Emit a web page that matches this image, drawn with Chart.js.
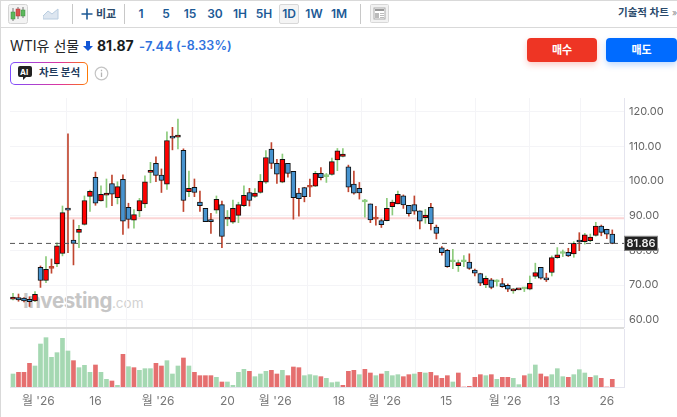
<!DOCTYPE html>
<html lang="ko">
<head>
<meta charset="utf-8">
<title>WTI유 선물</title>
<script src="https://cdn.jsdelivr.net/npm/chart.js@4"></script>
<style>
html, body { margin: 0; padding: 0; background: #fff; overflow: hidden; }
body { width: 677px; height: 417px; position: relative; font-family: Inter, "Noto Sans CJK KR", sans-serif; }
canvas { position: absolute; left: 0; }
.abs { position: absolute; white-space: nowrap; }
.line { position: absolute; background: #d9d9d9; }
.iv { position: absolute; top: 6px; height: 16px; line-height: 16px; transform: translateX(-50%); font-size: 12px; font-weight: 600; color: #1c5a96; }
.btn { position: absolute; top: 38px; height: 24px; line-height: 24px; text-align: center; color: #fff; font-size: 11px; font-weight: 700; border-radius: 4px; }
#priceChart { top: 98px; }
#volumeChart { top: 329px; }
#mark { left: 23px; top: 288px; line-height: 26px; font-size: 20.5px; font-weight: 700; color: #c6c6c6; letter-spacing: -0.4px; }
#mark span { font-size: 13.5px; font-weight: 400; color: #d2d2d2; letter-spacing: 0; }
</style>
</head>
<body>
<div class="line" style="left:0;top:0;width:677px;height:1px"></div>
<div class="line" style="left:0;top:27px;width:677px;height:1px"></div>
<div class="line" style="left:0;top:0;width:1px;height:417px"></div>
<div class="line" style="left:72px;top:4px;width:1px;height:20px;background:#c8c8c8"></div>
<div class="line" style="left:124px;top:4px;width:1px;height:20px;background:#c8c8c8"></div>
<div class="line" style="left:360px;top:4px;width:1px;height:20px;background:#c8c8c8"></div>

<svg class="abs" style="left:8px;top:4px" width="20" height="20">
  <rect x="0.5" y="0.5" width="19" height="19" rx="2" fill="#f3f3f3" stroke="#d4d4d4"/>
  <path d="M5 4v13M10 3v12M15 3v11" stroke="#777"/>
  <rect x="3" y="8" width="4" height="7" fill="#5cb85c" stroke="#3d8b3d" stroke-width=".5"/>
  <rect x="8" y="5" width="4" height="7" fill="#d9534f" stroke="#a33" stroke-width=".5"/>
  <rect x="13" y="6" width="4" height="6" fill="#5cb85c" stroke="#3d8b3d" stroke-width=".5"/>
</svg>
<svg class="abs" style="left:43px;top:8px" width="16" height="12">
  <path d="M0 8 L5 3 L9 6 L15 1 V11 H0Z" fill="#dde6f0" stroke="#b9cde0"/>
</svg>
<svg class="abs" style="left:80px;top:7px" width="14" height="14">
  <path d="M7 1.5v11M1.5 7h11" stroke="#1c5a96" stroke-width="1.6"/>
</svg>
<div class="abs" style="left:96px;top:6px;line-height:16px;font-size:11px;font-weight:700;color:#2a4a6b">비교</div>
<div class="abs" style="left:279px;top:4px;width:18px;height:18px;border:1px solid #d8d8d8;border-radius:2px;background:#f4f4f4"></div>
<div class="iv" style="left:141px">1</div>
<div class="iv" style="left:166px">5</div>
<div class="iv" style="left:190px">15</div>
<div class="iv" style="left:215px">30</div>
<div class="iv" style="left:240px">1H</div>
<div class="iv" style="left:264px">5H</div>
<div class="iv" style="left:289px">1D</div>
<div class="iv" style="left:314px">1W</div>
<div class="iv" style="left:339px">1M</div>
<svg class="abs" style="left:370px;top:4px" width="19" height="19">
  <rect x="0.5" y="0.5" width="18" height="18" rx="1" fill="#f2f2f2" stroke="#d8d8d8"/>
  <rect x="4" y="4" width="11" height="11" fill="#fff" stroke="#aaa"/>
  <rect x="5" y="5" width="9" height="2" fill="#999"/>
  <rect x="5" y="9" width="4" height="5" fill="#bbb"/>
  <path d="M10 9.5h4M10 11.5h4M10 13.5h4" stroke="#bbb"/>
</svg>
<div class="abs" style="left:618px;top:5px;line-height:16px;font-size:10.5px;font-weight:700;color:#2a4a6b">기술적 차트</div>
<div class="abs" style="left:672px;top:5px;line-height:16px;font-size:9px;color:#888">»</div>

<div class="abs" style="left:10px;top:36px;line-height:20px;font-size:14px;color:#232526">WTI유 선물</div>
<svg class="abs" style="left:83px;top:41px" width="10" height="10">
  <path d="M3 0h4v5h3L5 10 0 5h3z" fill="#1256d6"/>
</svg>
<div class="abs" style="left:97px;top:36px;line-height:20px;font-size:14px;font-weight:700;color:#181c21">81.87</div>
<div class="abs" style="left:139px;top:36px;line-height:20px;font-size:13px;font-weight:600;color:#2f72dd;letter-spacing:.3px">-7.44</div>
<div class="abs" style="left:176px;top:36px;line-height:20px;font-size:12.5px;font-weight:600;color:#2f72dd;letter-spacing:.1px">(-8.33%)</div>

<div class="btn" style="left:527px;width:70px;background:#ee3524;box-shadow:0 3px 6px rgba(238,53,36,.25)">매수</div>
<div class="btn" style="left:606px;width:71px;background:#006bff;box-shadow:0 3px 6px rgba(0,107,255,.25)">매도</div>

<div class="abs" style="left:10px;top:62px;width:78px;height:23px;border-radius:5px;background:linear-gradient(90deg,#7b4dff,#e0359b 65%,#ff7a00)"></div>
<div class="abs" style="left:11px;top:63px;width:76px;height:21px;border-radius:4px;background:#fff"></div>
<svg class="abs" style="left:18px;top:66px" width="14" height="15">
  <path d="M2 0h10a2 2 0 0 1 2 2v7a2 2 0 0 1-2 2H8l-3 3v-3H2a2 2 0 0 1-2-2V2a2 2 0 0 1 2-2z" fill="#222"/>
</svg>
<div class="abs" style="left:20px;top:65px;line-height:14px;font-size:8px;font-weight:700;color:#fff">AI</div>
<div class="abs" style="left:39px;top:65px;line-height:16px;font-size:10.5px;font-weight:700;color:#1e3a5c">차트 분석</div>
<svg class="abs" style="left:94px;top:66px" width="15" height="15">
  <circle cx="7.5" cy="7.5" r="6.3" fill="none" stroke="#c4c4c4" stroke-width="1.2"/>
  <path d="M7.5 6.5v4.5M7.5 3.8v1.4" stroke="#b4b4b4" stroke-width="1.3"/>
</svg>

<div class="abs" id="mark">Investing<span>.com</span></div>
<canvas id="priceChart" width="677" height="230"></canvas>
<div class="line" style="left:10px;top:327px;width:614px;height:2px;background:#dcdcdc"></div>
<canvas id="volumeChart" width="677" height="88"></canvas>

<script>
// Daily candles
const opens = [
  65.9,66.4,66.2,65.9,65.4,75.1,71.3,74.8,76.1,79.1,
  91.8,83.0,85.2,87.5,95.6,101.1,94.3,95.9,99.3,95.2,
  100.5,92.4,88.7,91.4,93.4,102.5,105.1,101.7,99.1,112.9,
  112.7,108.9,96.9,98.2,93.9,92.1,88.9,91.6,93.2,89.0,
  88.1,90.1,92.9,96.7,95.6,96.7,99.7,109.2,105.1,99.7,
  105.1,102.8,96.5,98.1,98.2,98.5,102.2,101.3,101.9,106.1,
  107.1,104.1,99.1,97.9,94.0,93.4,89.0,88.6,88.6,92.6,
  93.4,95.7,93.0,93.2,91.4,89.4,92.4,86.7,80.7,80.0,
  76.7,75.6,76.7,76.6,74.3,73.3,70.0,71.5,70.9,70.4,
  69.9,68.3,68.6,68.9,68.8,72.5,75.1,72.0,73.6,77.9,
  79.1,79.4,79.0,83.0,82.5,82.8,84.3,87.0,86.1,84.7
];
const highs = [
  67.6,67.4,66.4,66.6,68.1,75.5,78.2,77.5,82.2,92.8,
  113.6,88.8,87.2,95.7,97.4,102.6,98.6,100.6,101.7,99.8,
  101.8,93.6,91.8,95.0,101.5,105.4,107.0,103.5,114.2,115.5,
  117.9,109.3,102.9,100.6,97.1,92.1,90.7,95.7,94.2,91.5,
  94.5,93.9,98.6,97.9,97.8,101.9,108.8,111.1,106.3,107.8,
  105.1,102.8,97.9,98.2,100.6,102.8,103.9,102.2,106.6,109.4,
  109.4,104.6,102.9,99.6,94.7,93.4,92.7,89.0,95.0,94.5,
  97.1,96.0,93.0,95.7,91.4,91.8,93.6,87.3,81.1,80.3,
  80.3,77.2,78.5,79.0,74.6,73.4,72.6,71.9,71.5,71.9,
  70.3,69.0,68.7,69.3,72.6,76.3,75.1,73.4,78.4,80.8,
  80.1,80.6,82.5,85.1,84.9,84.7,88.1,87.3,86.1,85.9
];
const lows = [
  65.7,65.3,65.1,63.8,65.2,69.3,70.7,73.4,75.3,78.4,
  79.3,75.8,80.8,87.3,91.2,93.0,94.2,92.4,92.9,93.4,
  84.6,86.4,86.4,89.7,92.3,99.5,99.8,96.7,97.6,109.0,
  109.3,91.2,95.5,95.5,91.2,88.3,84.9,90.7,80.8,87.1,
  87.8,88.0,92.6,92.8,95.3,96.5,99.3,103.6,99.3,99.5,
  101.1,89.0,89.9,94.0,95.5,98.4,100.3,99.6,101.7,103.0,
  107.0,96.9,96.2,94.8,89.6,88.0,87.3,86.6,88.5,90.2,
  93.4,92.1,89.9,90.4,86.2,87.8,85.9,83.3,78.6,75.1,
  74.7,73.9,75.3,74.5,72.6,69.8,69.2,68.9,69.7,69.3,
  68.1,67.6,68.6,68.1,68.6,71.9,71.7,71.0,72.6,77.7,
  78.2,78.2,78.0,79.9,81.8,82.5,84.1,84.2,83.4,81.9
];
const closes = [
  66.5,65.7,65.4,65.2,67.3,71.3,74.5,74.8,81.3,90.9,
  91.6,82.0,86.1,94.4,97.0,93.6,96.2,96.5,96.2,98.4,
  88.4,88.9,90.3,94.4,99.8,103.1,101.6,100.2,111.7,112.4,
  112.9,94.4,97.9,96.7,92.9,88.3,88.3,94.7,84.0,89.5,
  92.1,93.2,95.9,94.4,96.5,99.9,106.8,105.1,102.0,106.3,
  102.2,95.2,94.9,95.5,98.2,102.2,101.0,101.3,105.6,108.7,
  107.8,98.2,96.5,96.6,94.0,88.8,89.0,87.4,92.1,93.9,
  96.2,93.1,90.6,91.3,88.4,90.2,87.7,84.9,79.3,75.3,
  76.7,76.5,76.7,74.8,73.4,70.5,71.9,69.3,70.9,69.5,
  68.8,68.8,68.7,68.9,70.5,73.6,72.0,71.5,77.9,78.7,
  79.1,78.4,82.0,82.4,84.5,83.8,87.0,85.2,84.7,82.0
];
// Flat days (open == close) that are marked as falling
const flatFallingDays = [7, 54, 66];

// Volume pane, and whether each bar is green (1) or red (-1)
const volumes = [
  39,44,44,71,63,129,148,89,103,146,
  108,79,58,65,44,66,44,23,18,5,
  98,61,58,50,55,55,71,63,79,39,
  63,87,63,44,34,34,34,29,15,15,
  5,44,53,47,31,39,47,50,39,50,
  34,60,58,34,37,34,31,26,13,15,
  5,47,50,37,53,42,34,39,47,34,
  37,31,37,39,44,42,44,34,26,34,
  15,42,0,2,29,37,34,37,23,29,
  29,26,7,34,39,66,39,31,37,55,
  31,29,37,52,42,29,34,26,0,23
];
const volumeSides = [
  1,-1,-1,-1,1,1,1,1,1,1,
  1,-1,1,1,1,-1,1,1,-1,1,
  -1,1,-1,1,1,1,-1,-1,1,1,
  1,-1,1,-1,-1,-1,-1,1,-1,1,
  1,1,1,-1,1,1,1,-1,-1,1,
  -1,-1,-1,1,1,1,-1,1,1,1,
  -1,-1,-1,1,-1,-1,1,-1,1,1,
  1,-1,-1,1,-1,1,-1,-1,-1,-1,
  1,-1,-1,-1,-1,-1,1,-1,1,-1,
  -1,1,1,-1,1,1,-1,-1,1,1,
  1,-1,1,1,1,-1,1,-1,-1,-1
];

// Axes
const xTickPositions = [4.6, 15, 26.4, 39, 47.7, 59.3, 67.6, 78.8, 89.5, 98.4, 108];
const xTickLabels = ["월 '26", '16', "월 '26", '20', "월 '26", '18', "월 '26", '15', "월 '26", '13', '26'];
const priceTicks = [60, 70, 80, 90, 100, 110, 120];

// Horizontal levels
const resistanceLevel = 89.3;
const lastLevel = 82.0;
const lastLabel = '81.86';

const xRange = { min: -0.545, max: 111.13 };
const axisFont = { family: "Inter, 'Noto Sans CJK KR', sans-serif", size: 11 };

Chart.defaults.animation = false;
Chart.defaults.responsive = false;
Chart.defaults.plugins.legend.display = false;
Chart.defaults.plugins.tooltip.enabled = false;

// Dark box with the last price, on top of the axis
const lastPriceBox = {
    id: 'lastPriceBox',
    afterDraw(chart) {
        const ctx = chart.ctx;
        const y = chart.scales.y.getPixelForValue(lastLevel);
        const left = chart.chartArea.right;
        ctx.save();
        ctx.fillStyle = '#222';
        ctx.strokeStyle = '#8a8a8a';
        ctx.fillRect(left, y - 7.5, 34, 15);
        ctx.strokeRect(left + 0.5, y - 7, 33, 14);
        ctx.fillStyle = '#f0f0f0';
        ctx.font = "600 11px Inter, sans-serif";
        ctx.textAlign = 'center';
        ctx.textBaseline = 'middle';
        ctx.fillText(lastLabel, left + 17, y + 0.5);
        ctx.restore();
    }
};

// Pin axis sizes so both panes keep the same plot area
function pinHeight(height) {
    return function(scale) {
        scale.height = height;
        scale.paddingLeft = 0;
        scale.paddingRight = 0;
    };
}

function pinWidth(scale) {
    scale.width = 53;
    scale.paddingTop = 0;
    scale.paddingBottom = 0;
}

function xAxis(showLabels) {
    return {
        type: 'linear',
        offset: false,
        min: xRange.min,
        max: xRange.max,
        afterFit: pinHeight(showLabels ? 30 : 0),
        afterBuildTicks: function(scale) {
            scale.ticks = xTickPositions.map(value => ({ value: value }));
        },
        grid: { color: '#f4f4f7', drawTicks: false },
        border: { display: showLabels, color: '#e4e4ee' },
        ticks: {
            display: showLabels,
            autoSkip: false,
            maxRotation: 0,
            padding: 7,
            color: '#777',
            font: { family: axisFont.family, size: 12 },
            callback: function(value, index) {
                return xTickLabels[index];
            }
        }
    };
}

function initPriceChart() {
    const isFlat = i => opens[i] === closes[i];
    const isRising = i => isFlat(i) ? !flatFallingDays.includes(i) : closes[i] > opens[i];
    const wickColor = i => isRising(i) ? '#8ccb7c' : '#c0452f';

    new Chart(document.getElementById('priceChart'), {
        type: 'bar',
        data: {
            datasets: [
                {
                    label: 'Candle',
                    data: opens.map((open, i) => ({ x: i, y: [open, closes[i]] })),
                    backgroundColor: opens.map((open, i) => isFlat(i) ? wickColor(i) : isRising(i) ? '#ff0000' : '#4793cf'),
                    borderColor: opens.map((open, i) => isFlat(i) ? wickColor(i) : '#101010'),
                    borderWidth: 1,
                    borderSkipped: false,
                    barThickness: 5,
                    minBarLength: 2,
                    grouped: false,
                    order: 1
                },
                {
                    label: 'Range',
                    data: highs.map((high, i) => ({ x: i, y: [lows[i], high] })),
                    backgroundColor: opens.map((open, i) => wickColor(i)),
                    barThickness: 1,
                    grouped: false,
                    order: 2
                },
                {
                    type: 'line',
                    label: 'Last',
                    data: [{ x: xRange.min, y: lastLevel }, { x: xRange.max, y: lastLevel }],
                    borderColor: '#555',
                    borderWidth: 1,
                    borderDash: [5, 4],
                    pointRadius: 0,
                    order: 0
                },
                {
                    type: 'line',
                    label: 'Level',
                    data: [{ x: xRange.min, y: resistanceLevel }, { x: xRange.max, y: resistanceLevel }],
                    borderColor: '#fbd5d5',
                    borderWidth: 2,
                    pointRadius: 0,
                    order: 3
                }
            ]
        },
        options: {
            layout: { padding: { left: 10, right: 0, top: 0, bottom: 0 } },
            scales: {
                x: xAxis(false),
                y: {
                    position: 'right',
                    min: 57.59,
                    max: 123.97,
                    afterFit: pinWidth,
                    afterBuildTicks: function(scale) {
                        scale.ticks = priceTicks.map(value => ({ value: value }));
                    },
                    grid: { color: '#f4f4f7', drawTicks: false },
                    border: { color: '#e4e4ee' },
                    ticks: {
                        padding: 5,
                        color: '#666',
                        font: axisFont,
                        callback: function(value) {
                            return value.toFixed(2);
                        }
                    }
                }
            }
        },
        plugins: [lastPriceBox]
    });
}

function initVolumeChart() {
    new Chart(document.getElementById('volumeChart'), {
        type: 'bar',
        data: {
            datasets: [{
                label: 'Volume',
                data: volumes.map((volume, i) => ({ x: i, y: volume })),
                backgroundColor: volumeSides.map(side => side > 0 ? '#a5d8b2' : '#e56f6f'),
                barThickness: 4
            }]
        },
        options: {
            layout: { padding: { left: 10, right: 0, top: 0, bottom: 0 } },
            scales: {
                x: xAxis(true),
                y: {
                    position: 'right',
                    min: 0,
                    max: 174,
                    afterFit: pinWidth,
                    grid: { display: false },
                    border: { color: '#e4e4ee' },
                    ticks: { display: false }
                }
            }
        }
    });
}

initPriceChart();
initVolumeChart();
</script>
</body>
</html>
